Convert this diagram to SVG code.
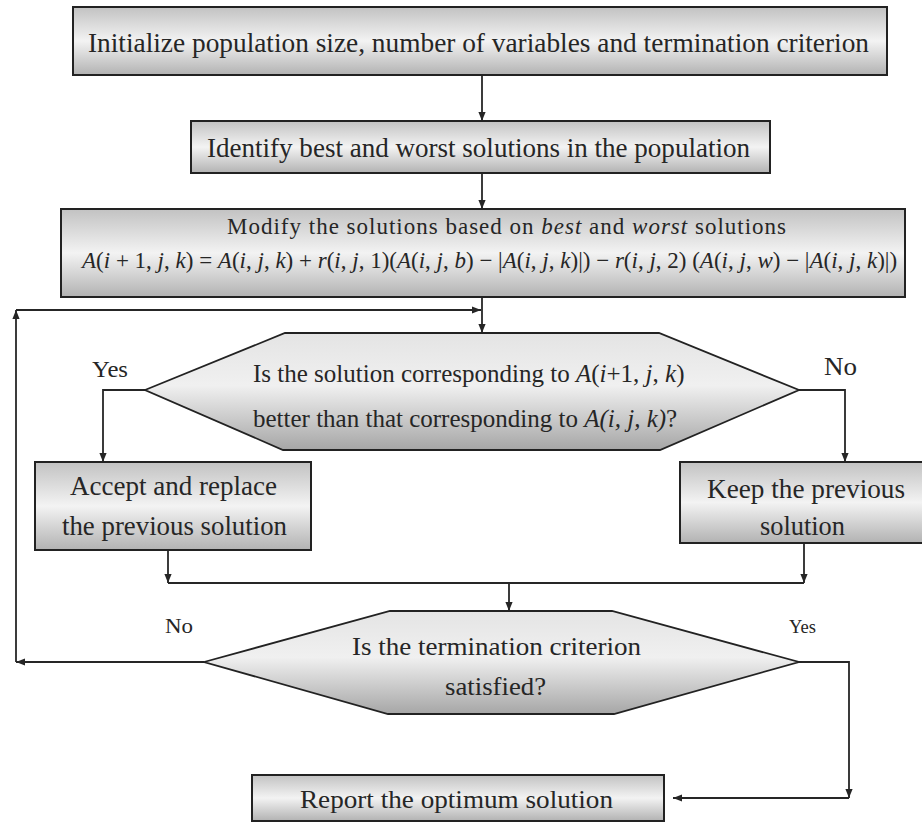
<svg xmlns="http://www.w3.org/2000/svg" width="922" height="824" viewBox="0 0 922 824">
<style>
.box{stroke:#222;stroke-width:2;fill:url(#gBox)}
.hex{stroke:#222;stroke-width:1.8;fill:url(#gHex)}
.t{font-family:"Liberation Serif","Times New Roman",serif;fill:#262626}
.i{font-style:italic}
.c{fill:none;stroke:#262626;stroke-width:1.8}
</style>
<defs>
<linearGradient id="gBox" x1="0" y1="0" x2="0" y2="1">
<stop offset="0" stop-color="#c2c2c2"/>
<stop offset="0.5" stop-color="#f3f3f3"/>
<stop offset="1" stop-color="#b2b2b2"/>
</linearGradient>
<linearGradient id="gHex" x1="0" y1="0" x2="0" y2="1">
<stop offset="0" stop-color="#e4e4e4"/>
<stop offset="0.45" stop-color="#f0f0f0"/>
<stop offset="1" stop-color="#a6a6a6"/>
</linearGradient>
<marker id="ah" viewBox="0 0 10 10" refX="10" refY="5" markerWidth="9" markerHeight="9" markerUnits="userSpaceOnUse" orient="auto">
<path d="M0,1 L10,5 L0,9 z" fill="#262626"/>
</marker>
</defs>
<rect width="922" height="824" fill="#ffffff"/>

<g id="connectors">
<path class="c" d="M482,75 V121" marker-end="url(#ah)"/>
<path class="c" d="M482,173 V209" marker-end="url(#ah)"/>
<path class="c" d="M482,297 V333" marker-end="url(#ah)"/>
<path class="c" d="M145,390 H103 V462" marker-end="url(#ah)"/>
<path class="c" d="M799,390 H845 V462" marker-end="url(#ah)"/>
<path class="c" d="M168,550 V583" marker-end="url(#ah)"/>
<path class="c" d="M804,543 V583" marker-end="url(#ah)"/>
<path class="c" d="M168,583 H804"/>
<path class="c" d="M509,583 V611" marker-end="url(#ah)"/>
<path class="c" d="M204,662 H16" marker-end="url(#ah)"/>
<path class="c" d="M16,662 V310" marker-end="url(#ah)"/>
<path class="c" d="M16,310 H481" marker-end="url(#ah)"/>
<path class="c" d="M799,662 H849 V798" marker-end="url(#ah)"/>
<path class="c" d="M849,798 H673" marker-end="url(#ah)"/>
</g>

<g id="init">
<rect class="box" x="73" y="7" width="814" height="68"/>
<text class="t" x="88" y="52" font-size="28" textLength="781" lengthAdjust="spacingAndGlyphs">Initialize  population  size, number of variables and termination  criterion</text>
</g>

<g id="identify">
<rect class="box" x="191" y="121" width="579" height="52"/>
<text class="t" x="207" y="157" font-size="28" textLength="543" lengthAdjust="spacingAndGlyphs">Identify best and worst solutions in the population</text>
</g>

<g id="modify">
<rect class="box" x="61" y="209" width="844" height="88"/>
<text class="t" x="227" y="234" font-size="23" letter-spacing="1">Modify the solutions based on <tspan class="i">best</tspan> and <tspan class="i">worst</tspan> solutions</text>
<text class="t" x="82" y="268" font-size="23"><tspan class="i">A</tspan>(<tspan class="i">i</tspan> + 1, <tspan class="i">j</tspan>, <tspan class="i">k</tspan>) = <tspan class="i">A</tspan>(<tspan class="i">i</tspan>, <tspan class="i">j</tspan>, <tspan class="i">k</tspan>) + <tspan class="i">r</tspan>(<tspan class="i">i</tspan>, <tspan class="i">j</tspan>, 1)(<tspan class="i">A</tspan>(<tspan class="i">i</tspan>, <tspan class="i">j</tspan>, <tspan class="i">b</tspan>) − |<tspan class="i">A</tspan>(<tspan class="i">i</tspan>, <tspan class="i">j</tspan>, <tspan class="i">k</tspan>)|) − <tspan class="i">r</tspan>(<tspan class="i">i</tspan>, <tspan class="i">j</tspan>, 2) (<tspan class="i">A</tspan>(<tspan class="i">i</tspan>, <tspan class="i">j</tspan>, <tspan class="i">w</tspan>) − |<tspan class="i">A</tspan>(<tspan class="i">i</tspan>, <tspan class="i">j</tspan>, <tspan class="i">k</tspan>)|)</text>
</g>

<g id="decision1">
<polygon class="hex" points="145,390 285,333 659,333 799,390 660,450 283,450"/>
<text class="t" x="253" y="382" font-size="25">Is the solution corresponding to <tspan class="i">A</tspan>(<tspan class="i">i</tspan>+1, <tspan class="i">j</tspan>, <tspan class="i">k</tspan>)</text>
<text class="t" x="253" y="427" font-size="25">better than that corresponding to <tspan class="i">A(i, j, k)</tspan>?</text>
<text class="t" x="92" y="377" font-size="24" textLength="36" lengthAdjust="spacingAndGlyphs">Yes</text>
<text class="t" x="824" y="375" font-size="26" textLength="33" lengthAdjust="spacingAndGlyphs">No</text>
</g>

<g id="accept">
<rect class="box" x="35" y="462" width="276" height="88"/>
<text class="t" x="70" y="495" font-size="27" textLength="207" lengthAdjust="spacingAndGlyphs">Accept and replace</text>
<text class="t" x="62" y="535" font-size="27" textLength="225" lengthAdjust="spacingAndGlyphs">the previous solution</text>
</g>

<g id="keep">
<rect class="box" x="680" y="462" width="250" height="81"/>
<text class="t" x="707" y="498" font-size="27" textLength="198" lengthAdjust="spacingAndGlyphs">Keep  the previous</text>
<text class="t" x="760" y="535" font-size="27" textLength="85" lengthAdjust="spacingAndGlyphs">solution</text>
</g>

<g id="decision2">
<polygon class="hex" points="204,662 390,611 612,611 799,662 614,714 388,714"/>
<text class="t" x="352" y="655" font-size="26" textLength="289" lengthAdjust="spacingAndGlyphs">Is the termination  criterion</text>
<text class="t" x="445" y="695" font-size="26" textLength="101" lengthAdjust="spacingAndGlyphs">satisfied?</text>
<text class="t" x="165" y="633" font-size="20" textLength="28" lengthAdjust="spacingAndGlyphs">No</text>
<text class="t" x="789" y="633" font-size="19" textLength="27" lengthAdjust="spacingAndGlyphs">Yes</text>
</g>

<g id="report">
<rect class="box" x="252" y="775" width="412" height="46"/>
<text class="t" x="300" y="808" font-size="26" textLength="313" lengthAdjust="spacingAndGlyphs">Report the optimum solution</text>
</g>
</svg>
